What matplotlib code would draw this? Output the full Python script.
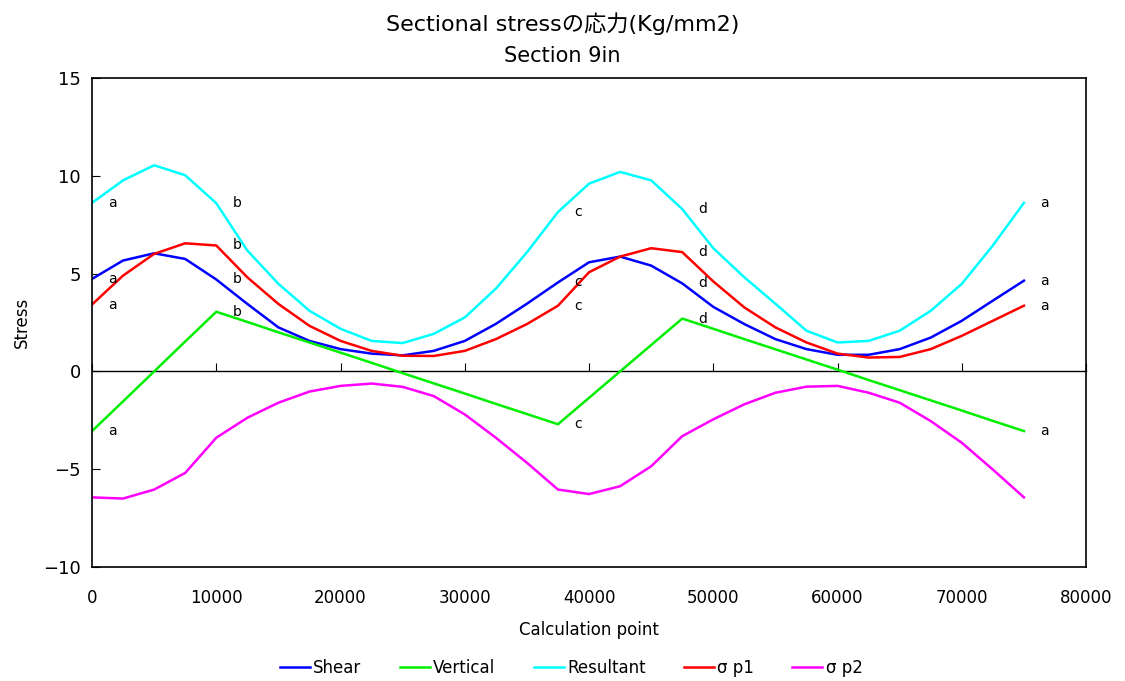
import numpy as np
import matplotlib
matplotlib.use('Agg')
import matplotlib.pyplot as plt

plt.rcParams['font.family'] = ['DejaVu Sans', 'Noto Sans CJK JP']

# calculation points (every 2500)
x = np.arange(0, 75001, 2500)

shear = [4.73, 5.67, 6.04, 5.75, 4.70, 3.45, 2.25, 1.56, 1.14, 0.91, 0.82,
         1.05, 1.56, 2.43, 3.46, 4.55, 5.58, 5.87, 5.41, 4.50, 3.30,
         2.42, 1.65, 1.14, 0.85, 0.85, 1.14, 1.73, 2.59, 3.62, 4.64]
vertical = [-3.05, -1.53, 0.00, 1.53, 3.05, 2.53, 2.00, 1.48, 0.96, 0.44, -0.09,
            -0.61, -1.13, -1.66, -2.18, -2.70, -1.35, 0.00, 1.35, 2.70, 2.18,
            1.65, 1.13, 0.61, 0.09, -0.44, -0.96, -1.48, -2.00, -2.53, -3.05]
resultant = [8.62, 9.77, 10.54, 10.03, 8.60, 6.18, 4.48, 3.10, 2.18, 1.56, 1.45,
             1.92, 2.76, 4.23, 6.09, 8.15, 9.60, 10.20, 9.77, 8.30, 6.30,
             4.81, 3.46, 2.08, 1.48, 1.56, 2.08, 3.10, 4.48, 6.44, 8.62]
sp1 = [3.42, 4.90, 6.01, 6.55, 6.44, 4.81, 3.45, 2.33, 1.56, 1.05, 0.80,
       0.79, 1.05, 1.65, 2.42, 3.36, 5.07, 5.87, 6.30, 6.10, 4.60,
       3.27, 2.25, 1.48, 0.91, 0.71, 0.74, 1.14, 1.82, 2.59, 3.36]
sp2 = [-6.44, -6.50, -6.04, -5.19, -3.39, -2.37, -1.60, -1.03, -0.74, -0.62, -0.79,
       -1.26, -2.20, -3.39, -4.67, -6.04, -6.27, -5.87, -4.85, -3.31, -2.45,
       -1.68, -1.09, -0.78, -0.74, -1.09, -1.60, -2.54, -3.65, -5.02, -6.44]

# point markers a, b, c, d
mark_x = [0, 10000, 37500, 47500, 75000]
mark_txt = ['a', 'b', 'c', 'd', 'a']

fig = plt.figure(figsize=(11.25, 6.81), dpi=100)
ax = fig.add_axes([0.0818, 0.1674, 0.8836, 0.718])

series = [(shear, 'blue', 'Shear'), (vertical, '#00ee00', 'Vertical'),
          (resultant, 'cyan', 'Resultant'), (sp1, 'red', 'σ p1'),
          (sp2, 'magenta', 'σ p2')]
for ys, c, lab in series:
    ax.plot(x, ys, color=c, lw=1.8, label=lab)

for ys in [resultant, shear, sp1, vertical]:
    for mx, t in zip(mark_x, mark_txt):
        yv = ys[list(x).index(mx)]
        ax.annotate(t, (mx, yv), xytext=(11.5, 0), textcoords='offset points',
                    ha='left', va='center', fontsize=10)

ax.set_xlim(0, 80000)
ax.set_ylim(-10, 15)
ax.set_yticks(np.arange(-10, 16, 5))
ax.set_xticks(np.arange(0, 80001, 10000))
ax.tick_params(axis='y', direction='in', length=6, labelsize=13, pad=8)
ax.tick_params(axis='x', length=0, labelsize=12, pad=16)
for s in ax.spines.values():
    s.set_color('black')
    s.set_linewidth(1.2)

# zero line with ticks pointing up
sec = ax.secondary_xaxis(0.4)
sec.set_xticks(np.arange(0, 80001, 10000))
sec.tick_params(direction='in', length=6, labelbottom=False, color='black')
sec.spines['bottom'].set_linewidth(1.0)

ax.set_xlabel('Calculation point', fontsize=12, labelpad=10)
ax.set_ylabel('Stress', fontsize=12, labelpad=9)
fig.text(0.5, 0.965, 'Sectional stressの応力(Kg/mm2)', ha='center', va='center', fontsize=16)
fig.text(0.5, 0.918, 'Section 9in', ha='center', va='center', fontsize=15)

ax.legend(loc='center', bbox_to_anchor=(0.482, -0.207), ncol=5, frameon=False,
          fontsize=12, handlelength=1.8, handletextpad=0.2, columnspacing=2.3)

plt.savefig('out.png')
